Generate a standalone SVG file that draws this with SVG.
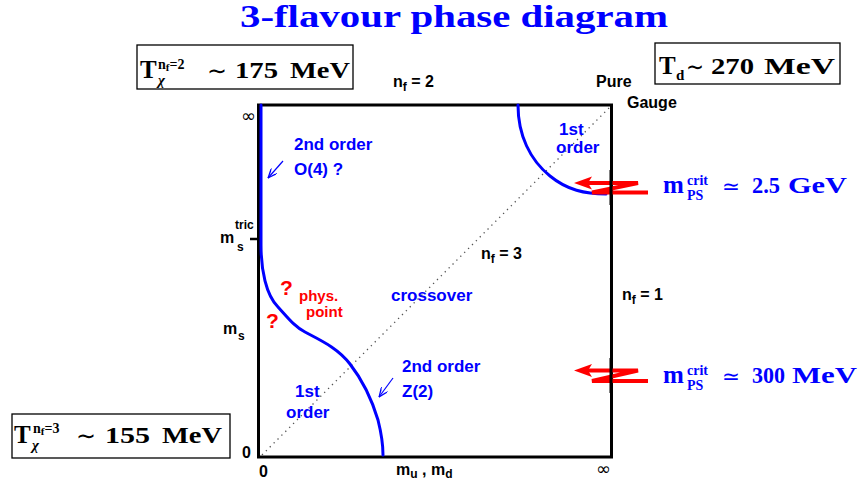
<svg xmlns="http://www.w3.org/2000/svg" width="863" height="490" viewBox="0 0 863 490">
<style>
.lab{font-family:"Liberation Sans",Arial,sans-serif;font-weight:bold;}
.math{font-family:"Liberation Serif","Times New Roman",serif;font-weight:bold;}
.sym{font-family:"DejaVu Sans","Liberation Sans",sans-serif;}
.blue{fill:#0000ff;}
.red{fill:#ff0000;}
.blk{fill:#000;}
.box{fill:#fff;stroke:#000;stroke-width:1.3;}
.curve{fill:none;stroke:#0000ff;stroke-width:3;stroke-linecap:round;}
.zig{fill:none;stroke:#ff0000;stroke-width:4;}
.thin{fill:none;stroke:#0000ff;stroke-width:1.2;}
</style>
<defs>
<marker id="openArrow" viewBox="0 0 10 8" refX="9.5" refY="4" markerWidth="10" markerHeight="8" markerUnits="userSpaceOnUse" orient="auto">
<path d="M0,0 L9.5,4 L0,8 M2,1.2 L9.5,4 L2,6.8" fill="none" stroke="#0000ff" stroke-width="1.1"/>
</marker>
</defs>
<rect width="863" height="490" fill="#fff"/>

<g id="title">
<text class="math blue" x="240" y="27" font-size="31" textLength="428" lengthAdjust="spacingAndGlyphs">3-flavour phase diagram</text>
</g>

<g id="frame">
<rect x="258.5" y="105" width="353" height="352" fill="none" stroke="#000" stroke-width="3"/>
<line x1="250" y1="239" x2="258" y2="239" stroke="#000" stroke-width="2.5"/>
</g>

<g id="connectors">
<path id="diagonal" d="M262,455 L611,106" fill="none" stroke="#555" stroke-width="1.3" stroke-dasharray="1.3 4.2"/>
<path id="boundary-left" class="curve" d="M261,105 L261,245 C261,270 266,295 278,307 C288,318 295,327 305,332 C320,340 338,348 350,364 C364,382 372,400 378,420 C381,432 383,445 383,455"/>
<path id="boundary-right" class="curve" d="M518,105 C518,135 530,160 550,176 C567,190 585,194 606,194"/>
<line id="arrow-o4" class="thin" x1="283" y1="161" x2="268" y2="178" marker-end="url(#openArrow)"/>
<line id="arrow-z2" class="thin" x1="393" y1="378" x2="379" y2="397" marker-end="url(#openArrow)"/>
<g id="zig-top">
<path class="zig" d="M648,192.5 L592,192.5 L638,183 L586,183"/>
<polygon points="574,183 592,176.5 588,183 592,189.5" fill="#ff0000"/>
</g>
<g id="zig-bottom">
<path class="zig" d="M648,381 L592,381 L638,370.5 L586,370.5"/>
<polygon points="574,370.5 592,364 588,370.5 592,377" fill="#ff0000"/>
</g>
<line x1="611" y1="170" x2="611" y2="205" stroke="#000" stroke-width="3"/>
<line x1="611" y1="358" x2="611" y2="393" stroke="#000" stroke-width="3"/>
</g>

<g id="box-tchi2">
<rect class="box" x="137" y="45" width="216" height="44"/>
<text class="math blk" x="140" y="78" font-size="25">T</text>
<text class="math blk" x="158" y="69" font-size="14">n<tspan font-size="11" dy="2">f</tspan><tspan font-size="14" dy="-2">=2</tspan></text>
<text class="math blk" x="158" y="85" font-size="15" font-style="italic" font-weight="normal">χ</text>
<text class="sym blk" x="207" y="79" font-size="24" textLength="20" lengthAdjust="spacingAndGlyphs">∼</text>
<text class="math blk" x="235" y="78" font-size="24" textLength="43" lengthAdjust="spacingAndGlyphs">175</text>
<text class="math blk" x="290" y="78" font-size="24" textLength="60" lengthAdjust="spacingAndGlyphs">MeV</text>
</g>

<g id="box-td">
<rect class="box" x="655" y="43" width="185" height="41"/>
<text class="math blk" x="659" y="74" font-size="25">T</text>
<text class="math blk" x="676" y="80" font-size="15" font-weight="normal">d</text>
<text class="sym blk" x="686" y="75" font-size="24" textLength="18" lengthAdjust="spacingAndGlyphs">∼</text>
<text class="math blk" x="711" y="74" font-size="24" textLength="43" lengthAdjust="spacingAndGlyphs">270</text>
<text class="math blk" x="764" y="74" font-size="24" textLength="71" lengthAdjust="spacingAndGlyphs">MeV</text>
</g>

<g id="box-tchi3">
<rect class="box" x="12" y="414" width="218" height="44"/>
<text class="math blk" x="14" y="443" font-size="25">T</text>
<text class="math blk" x="33" y="433" font-size="14">n<tspan font-size="11" dy="2">f</tspan><tspan font-size="14" dy="-2">=3</tspan></text>
<text class="math blk" x="32" y="450" font-size="15" font-style="italic" font-weight="normal">χ</text>
<text class="sym blk" x="76" y="444" font-size="24" textLength="20" lengthAdjust="spacingAndGlyphs">∼</text>
<text class="math blk" x="105" y="443" font-size="24" textLength="45" lengthAdjust="spacingAndGlyphs">155</text>
<text class="math blk" x="162" y="443" font-size="24" textLength="60" lengthAdjust="spacingAndGlyphs">MeV</text>
</g>

<g id="mps-high">
<text class="math blue" x="663" y="193" font-size="25">m</text>
<text class="math blue" x="687" y="185" font-size="14">crit</text>
<text class="math blue" x="687" y="200" font-size="14">PS</text>
<text class="sym blue" x="722" y="194" font-size="22" textLength="18" lengthAdjust="spacingAndGlyphs">≃</text>
<text class="math blue" x="752" y="193" font-size="24" textLength="28" lengthAdjust="spacingAndGlyphs">2.5</text>
<text class="math blue" x="788" y="193" font-size="24" textLength="59" lengthAdjust="spacingAndGlyphs">GeV</text>
</g>

<g id="mps-low">
<text class="math blue" x="663" y="383" font-size="25">m</text>
<text class="math blue" x="687" y="375" font-size="14">crit</text>
<text class="math blue" x="687" y="390" font-size="14">PS</text>
<text class="sym blue" x="722" y="384" font-size="22" textLength="18" lengthAdjust="spacingAndGlyphs">≃</text>
<text class="math blue" x="752" y="383" font-size="24" textLength="33" lengthAdjust="spacingAndGlyphs">300</text>
<text class="math blue" x="792" y="383" font-size="24" textLength="65" lengthAdjust="spacingAndGlyphs">MeV</text>
</g>

<g id="axis-labels">
<text class="lab blk" x="393" y="87" font-size="16">n<tspan font-size="12" dy="4">f</tspan><tspan font-size="16" dy="-4"> = 2</tspan></text>
<text class="lab blk" x="596" y="87" font-size="16">Pure</text>
<text class="lab blk" x="627" y="108" font-size="16">Gauge</text>
<text class="sym blk" x="241" y="122" font-size="18">∞</text>
<text class="sym blk" x="596" y="475" font-size="18">∞</text>
<text class="lab blk" x="220" y="243" font-size="16">m</text>
<text class="lab blk" x="235" y="229" font-size="12">tric</text>
<text class="lab blk" x="237" y="251" font-size="12">s</text>
<text class="lab blk" x="223" y="334" font-size="16">m</text>
<text class="lab blk" x="238" y="340" font-size="12">s</text>
<text class="lab blk" x="242" y="458" font-size="16">0</text>
<text class="lab blk" x="259" y="477" font-size="16">0</text>
<text class="lab blk" x="396" y="475" font-size="16">m<tspan font-size="12" dy="3">u</tspan><tspan font-size="16" dy="-3"> , m</tspan><tspan font-size="12" dy="3">d</tspan></text>
<text class="lab blk" x="481" y="259" font-size="16">n<tspan font-size="12" dy="4">f</tspan><tspan font-size="16" dy="-4"> = 3</tspan></text>
<text class="lab blk" x="622" y="300" font-size="16">n<tspan font-size="12" dy="4">f</tspan><tspan font-size="16" dy="-4"> = 1</tspan></text>
</g>

<g id="region-labels">
<text class="lab blue" x="294" y="150" font-size="17">2nd order</text>
<text class="lab blue" x="294" y="175" font-size="17">O(4) ?</text>
<text class="lab blue" x="559" y="135" font-size="17">1st</text>
<text class="lab blue" x="556" y="153" font-size="17">order</text>
<text class="lab blue" x="391" y="301" font-size="17">crossover</text>
<text class="lab blue" x="402" y="372" font-size="17">2nd order</text>
<text class="lab blue" x="402" y="397" font-size="17">Z(2)</text>
<text class="lab blue" x="295" y="397" font-size="17">1st</text>
<text class="lab blue" x="286" y="418" font-size="17">order</text>
</g>

<g id="phys-point">
<text class="lab red" x="280" y="295" font-size="21">?</text>
<text class="lab red" x="266" y="328" font-size="21">?</text>
<text class="lab red" x="299" y="301" font-size="15">phys.</text>
<text class="lab red" x="306" y="317" font-size="15">point</text>
</g>
</svg>
